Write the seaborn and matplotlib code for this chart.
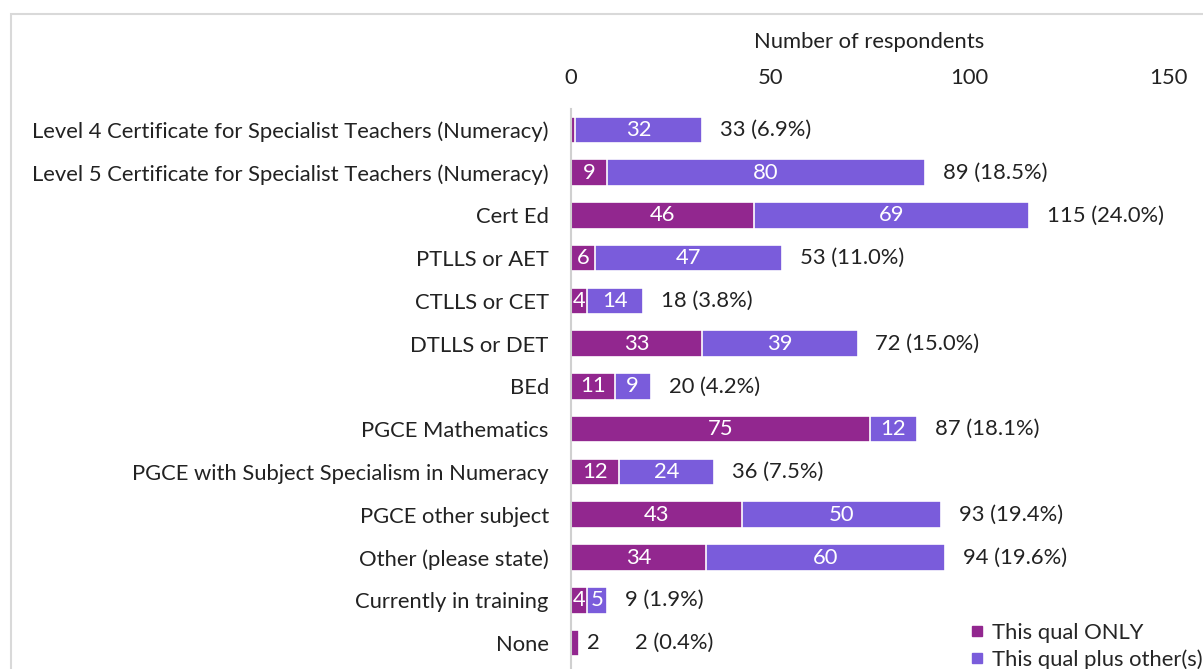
import matplotlib
matplotlib.use("Agg")
import matplotlib.pyplot as plt
import seaborn as sns
import pandas as pd
from matplotlib.patches import Rectangle
from matplotlib.lines import Line2D

categories = [
    "Level 4 Certificate for Specialist Teachers (Numeracy)",
    "Level 5 Certificate for Specialist Teachers (Numeracy)",
    "Cert Ed",
    "PTLLS or AET",
    "CTLLS or CET",
    "DTLLS or DET",
    "BEd",
    "PGCE Mathematics",
    "PGCE with Subject Specialism in Numeracy",
    "PGCE other subject",
    "Other (please state)",
    "Currently in training",
    "None",
]
only_vals = [1, 9, 46, 6, 4, 33, 11, 75, 12, 43, 34, 4, 2]
plus_vals = [32, 80, 69, 47, 14, 39, 9, 12, 24, 50, 60, 5, 0]
pct_labels = ["6.9%", "18.5%", "24.0%", "11.0%", "3.8%", "15.0%", "4.2%",
              "18.1%", "7.5%", "19.4%", "19.6%", "1.9%", "0.4%"]
xticks = [0, 50, 100, 150]

C_ONLY = "#92278F"
C_PLUS = "#7A5CDB"
TXT = "#222222"
FS = 15.8

totals = [a + b for a, b in zip(only_vals, plus_vals)]
df = pd.DataFrame({"cat": categories, "only": only_vals, "plus": plus_vals, "total": totals})

sns.set_theme(style="white")
plt.rcParams["font.family"] = ["Lato", "DejaVu Sans"]

fig = plt.figure(figsize=(12.03, 6.69), dpi=100)
ax = fig.add_axes([571 / 1203, 0.0, (1168 - 571) / 1203, 1 - 108.6 / 669])

sns.barplot(data=df, y="cat", x="total", orient="h", color=C_PLUS, saturation=1,
            width=0.62, edgecolor="white", linewidth=1.2, ax=ax)
sns.barplot(data=df, y="cat", x="only", orient="h", color=C_ONLY, saturation=1,
            width=0.62, edgecolor="white", linewidth=1.2, ax=ax)

ax.set_xlim(0, 150)
ax.set_ylim(12.608, -0.5)
ax.xaxis.tick_top()
ax.xaxis.set_label_position("top")
ax.set_xticks(xticks)
ax.set_xticklabels([str(t) for t in xticks], fontsize=FS, color=TXT)
ax.set_xlabel("Number of respondents", fontsize=FS, color=TXT, labelpad=14)
ax.set_ylabel("")
ax.tick_params(axis="x", length=0, pad=15)
ax.tick_params(axis="y", length=0, pad=16, labelsize=FS, labelcolor=TXT)
for s in ["top", "right", "bottom"]:
    ax.spines[s].set_visible(False)
ax.spines["left"].set_color("#d0d0d0")
ax.spines["left"].set_linewidth(1.5)

for i, (o, p, t, pc) in enumerate(zip(only_vals, plus_vals, totals, pct_labels)):
    extra = 0
    if o >= 3:
        ax.text(o / 2, i, str(o), ha="center", va="center", color="white", fontsize=FS)
    elif o > 1:
        ax.text(o + 3.5, i, str(o), ha="center", va="center", color=TXT, fontsize=FS)
        extra = 9.5
    if p >= 3:
        ax.text(o + p / 2, i, str(p), ha="center", va="center", color="white", fontsize=FS)
    ax.text(t + 4.5 + extra, i, f"{t} ({pc})", ha="left", va="center", color=TXT, fontsize=FS)

# outer chart border
fig.patches.append(Rectangle((11 / 1203, -0.1), 1.2, 1 - 14 / 669 + 0.1,
                             transform=fig.transFigure, fill=False,
                             edgecolor="#d9d9d9", linewidth=1.5, zorder=0))

handles = [Line2D([], [], marker="s", linestyle="", color=C_ONLY, markersize=7),
           Line2D([], [], marker="s", linestyle="", color=C_PLUS, markersize=7)]
fig.legend(handles, ["This qual ONLY", "This qual plus other(s)"],
           loc="upper left", bbox_to_anchor=(944 / 1203, 1 - 603 / 669),
           frameon=False, fontsize=FS, handletextpad=0.1, labelspacing=0.3,
           handlelength=1.2)

fig.savefig("out.png", dpi=100)
